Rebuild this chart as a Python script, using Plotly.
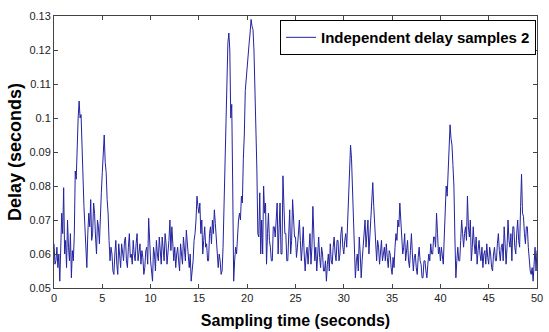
import plotly.graph_objects as go

# Delay samples (seconds), one every 0.1 s, grouped by 5-second blocks
delay_00_05 = [0.063, 0.057, 0.058, 0.062, 0.056, 0.060, 0.052, 0.064, 0.072, 0.066,
               0.0795, 0.060, 0.064, 0.056, 0.070, 0.062, 0.058, 0.066, 0.053, 0.061,
               0.058, 0.0655, 0.0844, 0.082, 0.0947, 0.100, 0.105, 0.100, 0.101, 0.090,
               0.082, 0.074, 0.068, 0.060, 0.056, 0.066, 0.072, 0.068, 0.076, 0.064,
               0.066, 0.075, 0.072, 0.065, 0.060, 0.070, 0.068, 0.063, 0.074, 0.078]
delay_05_10 = [0.084, 0.090, 0.095, 0.087, 0.084, 0.076, 0.072, 0.064, 0.058, 0.062,
               0.060, 0.055, 0.054, 0.060, 0.064, 0.057, 0.054, 0.063, 0.060, 0.056,
               0.063, 0.059, 0.058, 0.064, 0.065, 0.058, 0.056, 0.062, 0.066, 0.059,
               0.060, 0.057, 0.064, 0.060, 0.058, 0.063, 0.066, 0.058, 0.060, 0.063,
               0.057, 0.061, 0.059, 0.054, 0.056, 0.061, 0.062, 0.057, 0.0705, 0.063]
delay_10_15 = [0.058, 0.055, 0.052, 0.062, 0.060, 0.055, 0.064, 0.060, 0.058, 0.065,
               0.062, 0.057, 0.065, 0.061, 0.058, 0.066, 0.063, 0.057, 0.060, 0.064,
               0.070, 0.061, 0.068, 0.064, 0.058, 0.062, 0.056, 0.060, 0.062, 0.058,
               0.055, 0.063, 0.060, 0.057, 0.065, 0.061, 0.058, 0.067, 0.063, 0.059,
               0.056, 0.060, 0.052, 0.055, 0.058, 0.064, 0.066, 0.070, 0.077, 0.074]
delay_15_20 = [0.072, 0.075, 0.066, 0.070, 0.060, 0.064, 0.068, 0.062, 0.063, 0.058,
               0.058, 0.066, 0.068, 0.063, 0.070, 0.066, 0.073, 0.069, 0.065, 0.060,
               0.056, 0.060, 0.058, 0.054, 0.055, 0.062, 0.075, 0.090, 0.105, 0.118,
               0.122, 0.125, 0.120, 0.100, 0.104, 0.080, 0.052, 0.058, 0.062, 0.060,
               0.066, 0.070, 0.072, 0.070, 0.077, 0.075, 0.088, 0.095, 0.108, 0.112]
delay_20_25 = [0.117, 0.120, 0.122, 0.125, 0.129, 0.127, 0.126, 0.120, 0.110, 0.100,
               0.085, 0.066, 0.065, 0.078, 0.060, 0.070, 0.060, 0.080, 0.072, 0.075,
               0.057, 0.066, 0.072, 0.064, 0.062, 0.058, 0.058, 0.068, 0.068, 0.065,
               0.070, 0.075, 0.060, 0.070, 0.075, 0.060, 0.060, 0.083, 0.072, 0.066,
               0.066, 0.058, 0.058, 0.065, 0.073, 0.060, 0.064, 0.076, 0.068, 0.065]
delay_25_30 = [0.065, 0.059, 0.062, 0.068, 0.070, 0.064, 0.058, 0.062, 0.068, 0.060,
               0.055, 0.060, 0.062, 0.057, 0.063, 0.066, 0.057, 0.062, 0.074, 0.061,
               0.058, 0.062, 0.055, 0.060, 0.065, 0.059, 0.056, 0.062, 0.060, 0.055,
               0.055, 0.058, 0.052, 0.057, 0.060, 0.055, 0.063, 0.058, 0.057, 0.062,
               0.065, 0.060, 0.058, 0.064, 0.064, 0.058, 0.060, 0.066, 0.068, 0.062]
delay_30_35 = [0.060, 0.064, 0.066, 0.062, 0.070, 0.072, 0.085, 0.092, 0.088, 0.080,
               0.072, 0.064, 0.053, 0.058, 0.060, 0.055, 0.065, 0.060, 0.053, 0.058,
               0.062, 0.066, 0.070, 0.062, 0.065, 0.070, 0.060, 0.066, 0.070, 0.074,
               0.081, 0.074, 0.068, 0.062, 0.058, 0.064, 0.062, 0.057, 0.060, 0.064,
               0.058, 0.061, 0.062, 0.058, 0.063, 0.059, 0.056, 0.061, 0.060, 0.056]
delay_35_40 = [0.054, 0.059, 0.056, 0.062, 0.066, 0.064, 0.070, 0.068, 0.075, 0.070,
               0.066, 0.060, 0.062, 0.066, 0.058, 0.061, 0.064, 0.058, 0.056, 0.061,
               0.066, 0.060, 0.055, 0.059, 0.060, 0.056, 0.054, 0.059, 0.062, 0.058,
               0.057, 0.053, 0.053, 0.058, 0.058, 0.055, 0.053, 0.057, 0.060, 0.058,
               0.063, 0.060, 0.060, 0.065, 0.065, 0.062, 0.072, 0.066, 0.060, 0.062]
delay_40_45 = [0.058, 0.062, 0.060, 0.057, 0.065, 0.072, 0.080, 0.077, 0.085, 0.092,
               0.098, 0.094, 0.092, 0.086, 0.080, 0.065, 0.053, 0.058, 0.062, 0.058,
               0.058, 0.064, 0.070, 0.066, 0.062, 0.066, 0.068, 0.064, 0.077, 0.068,
               0.065, 0.070, 0.058, 0.062, 0.068, 0.063, 0.060, 0.065, 0.057, 0.061,
               0.064, 0.060, 0.058, 0.062, 0.056, 0.060, 0.061, 0.057, 0.063, 0.059]
delay_45_50 = [0.057, 0.062, 0.060, 0.056, 0.055, 0.060, 0.062, 0.058, 0.058, 0.063,
               0.066, 0.061, 0.058, 0.062, 0.063, 0.058, 0.068, 0.063, 0.057, 0.062,
               0.070, 0.064, 0.062, 0.066, 0.058, 0.068, 0.068, 0.062, 0.060, 0.066,
               0.070, 0.064, 0.062, 0.074, 0.0835, 0.072, 0.071, 0.066, 0.063, 0.068,
               0.068, 0.062, 0.058, 0.055, 0.054, 0.056, 0.052, 0.057, 0.062, 0.055,
               0.061]

delay = (delay_00_05 + delay_05_10 + delay_10_15 + delay_15_20 + delay_20_25 +
         delay_25_30 + delay_30_35 + delay_35_40 + delay_40_45 + delay_45_50)
sample_step = 0.1
sampling_time = [round(i * sample_step, 1) for i in range(len(delay))]

x_ticks = [0, 5, 10, 15, 20, 25, 30, 35, 40, 45, 50]
y_ticks = [0.05, 0.06, 0.07, 0.08, 0.09, 0.1, 0.11, 0.12, 0.13]
y_tick_labels = ["0.05", "0.06", "0.07", "0.08", "0.09", "0.1", "0.11", "0.12", "0.13"]

series_name = "Independent delay samples 2"

fig = go.Figure()
fig.add_trace(go.Scatter(
    x=sampling_time, y=delay, mode="lines", name=series_name,
    line=dict(color="#2323a0", width=1),
))

tick_font = dict(family="Liberation Sans Narrow, Arial Narrow, Liberation Sans, sans-serif",
                 size=11, color="#222222")
x_title_font = dict(family="Liberation Sans, Arial, sans-serif", size=16, color="#000000")
y_title_font = dict(family="Liberation Sans, Arial, sans-serif", size=18, color="#000000")

fig.update_layout(
    width=549, height=332,
    margin=dict(l=54, r=6, t=16, b=44),
    paper_bgcolor="white", plot_bgcolor="white",
    showlegend=True,
    legend=dict(
        x=0.998, y=0.985, xanchor="right", yanchor="top",
        bgcolor="white", bordercolor="#000000", borderwidth=1,
        font=dict(family="Liberation Sans Narrow, Arial Narrow, sans-serif", size=15,
                  color="#000000", weight="bold"),
        tracegroupgap=0, itemwidth=30,
    ),
    xaxis=dict(
        range=[0, 50], tickvals=x_ticks, ticks="inside", ticklen=4,
        tickcolor="#444444", showline=True, linecolor="#444444", linewidth=1,
        mirror="ticks", showgrid=False, zeroline=False, tickfont=tick_font,
        ticklabeloverflow="allow",
        title=dict(text="<b>Sampling time (seconds)</b>", font=x_title_font, standoff=11),
    ),
    yaxis=dict(
        range=[0.05, 0.13], tickvals=y_ticks, ticktext=y_tick_labels,
        ticks="inside", ticklen=4, tickcolor="#444444", showline=True,
        linecolor="#444444", linewidth=1, mirror="ticks", showgrid=False,
        zeroline=False, tickfont=tick_font,
        title=dict(text="<b>Delay (seconds)</b>", font=y_title_font, standoff=3),
    ),
)

fig.write_html("out.html")
